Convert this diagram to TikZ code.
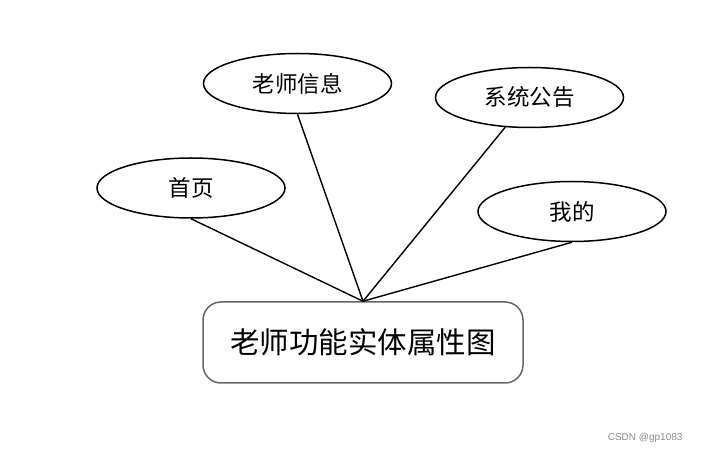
\documentclass[tikz,border=0pt]{standalone}
\usepackage{fontspec}
\newfontfamily\cjk{Noto Sans CJK SC}
\newfontfamily\wm{Liberation Sans}
\usetikzlibrary{shapes.geometric}
\tikzset{
  attr/.style={ellipse, draw, line width=1.5pt, minimum width=188pt, minimum height=60pt, inner sep=0pt, font=\cjk\fontsize{22.5}{26}\selectfont},
  entity/.style={rectangle, rounded corners=18pt, draw=black!60, line width=1.5pt, minimum width=320pt, minimum height=81pt, inner sep=0pt, font=\cjk\fontsize{29.5}{34}\selectfont},
  link/.style={line width=1.4pt}
}
\begin{document}
\begin{tikzpicture}[x=1pt,y=-1pt]
\useasboundingbox (0,0) rectangle (710,454);
\node[attr] (home) at (191,188) {首页};
\node[attr] (info) at (297.5,83.5) {老师信息};
\node[attr] (sys) at (529.5,97.5) {系统公告};
\node[attr] (mine) at (572,211.5) {我的};
\node[entity] (box) at (363,342.5) {老师功能实体属性图};
\draw[link] (home.south) -- (box.north);
\draw[link] (info.south) -- (box.north);
\draw[link] (sys) -- (box.north);
\draw[link] (mine.south) -- (box.north);
\node[font=\wm\fontsize{10}{12}\selectfont, text=black!45, anchor=east] (wmk) at (686,438) {CSDN @gp1083};
\end{tikzpicture}
\end{document}
